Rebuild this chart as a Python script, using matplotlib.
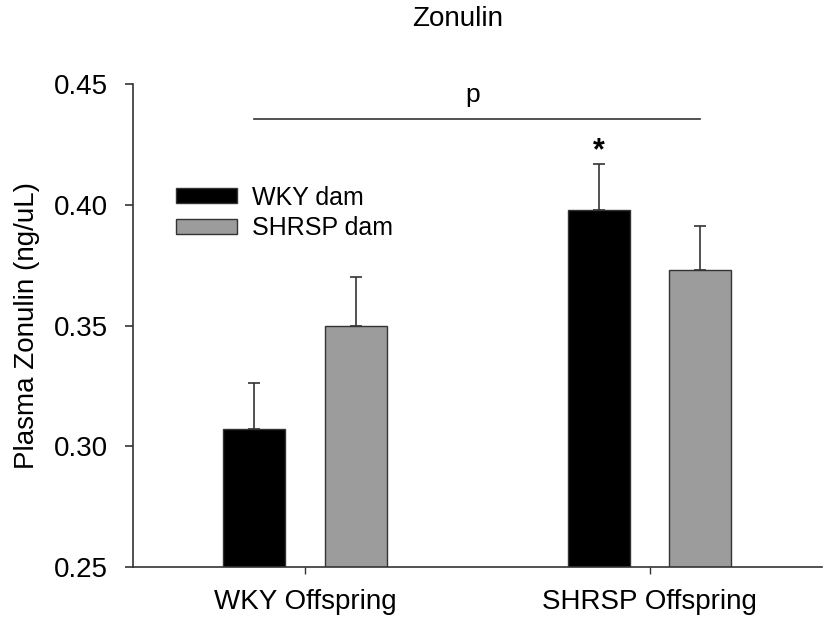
import matplotlib
matplotlib.use('Agg')
import matplotlib.pyplot as plt
import numpy as np

plt.rcParams['font.family'] = ['Liberation Sans', 'DejaVu Sans']

groups = ['WKY Offspring', 'SHRSP Offspring']
series = ['WKY dam', 'SHRSP dam']
wky_dam = [0.307, 0.398]
shrsp_dam = [0.350, 0.373]
wky_dam_err = [0.019, 0.019]
shrsp_dam_err = [0.020, 0.018]

edge = '#333333'
x = np.arange(len(groups))
w = 0.18
off = 0.148

fig = plt.figure(figsize=(8.25, 6.27), dpi=100)
ax = fig.add_axes([0.1612, 0.0957, 0.8348, 0.7703])

ax.bar(x - off, wky_dam, w, color='black', edgecolor=edge, linewidth=1,
       label=series[0], zorder=2)
ax.bar(x + off, shrsp_dam, w, color='#9c9c9c', edgecolor=edge, linewidth=1,
       label=series[1], zorder=2)
ax.errorbar(x - off, wky_dam, yerr=[[0, 0], wky_dam_err], fmt='none', ecolor=edge,
            elinewidth=1.2, capsize=4.5, capthick=1.2, zorder=1)
ax.errorbar(x + off, shrsp_dam, yerr=[[0, 0], shrsp_dam_err], fmt='none', ecolor=edge,
            elinewidth=1.2, capsize=4.5, capthick=1.2, zorder=1)

# significance annotations
ax.plot([x[0] - off, x[1] + off], [0.4355, 0.4355], color=edge, lw=1.2)
ax.text(0.485, 0.4405, 'p', ha='center', va='bottom', fontsize=19)
ax.text(x[1] - off, wky_dam[1] + wky_dam_err[1] - 0.001, '*', ha='center', va='bottom',
        fontsize=22, fontweight='bold')

ax.set_xlim(-0.5, 1.5)
ax.set_ylim(0.25, 0.45)
ax.set_yticks([0.25, 0.30, 0.35, 0.40, 0.45])
ax.set_yticklabels(['0.25', '0.30', '0.35', '0.40', '0.45'])
ax.set_xticks(x)
ax.set_xticklabels(groups, fontsize=20)
ax.tick_params(axis='y', labelsize=20, length=6, width=1.2, color=edge, pad=12)
ax.tick_params(axis='x', length=5, width=1, color=edge, pad=11)
ax.set_ylabel('Plasma Zonulin (ng/uL)', fontsize=20, labelpad=10)
fig.text(458 / 825, 1 - 19 / 627, 'Zonulin', ha='center', va='center', fontsize=20)

for s in ['top', 'right']:
    ax.spines[s].set_visible(False)
for s in ['left', 'bottom']:
    ax.spines[s].set_color(edge)
    ax.spines[s].set_linewidth(1.2)

ax.legend(loc='upper left', bbox_to_anchor=(0.03, 0.836), frameon=False, fontsize=18,
          handlelength=2.45, handleheight=0.55, handletextpad=0.6, labelspacing=0.25)

plt.savefig('out.png', dpi=100)
